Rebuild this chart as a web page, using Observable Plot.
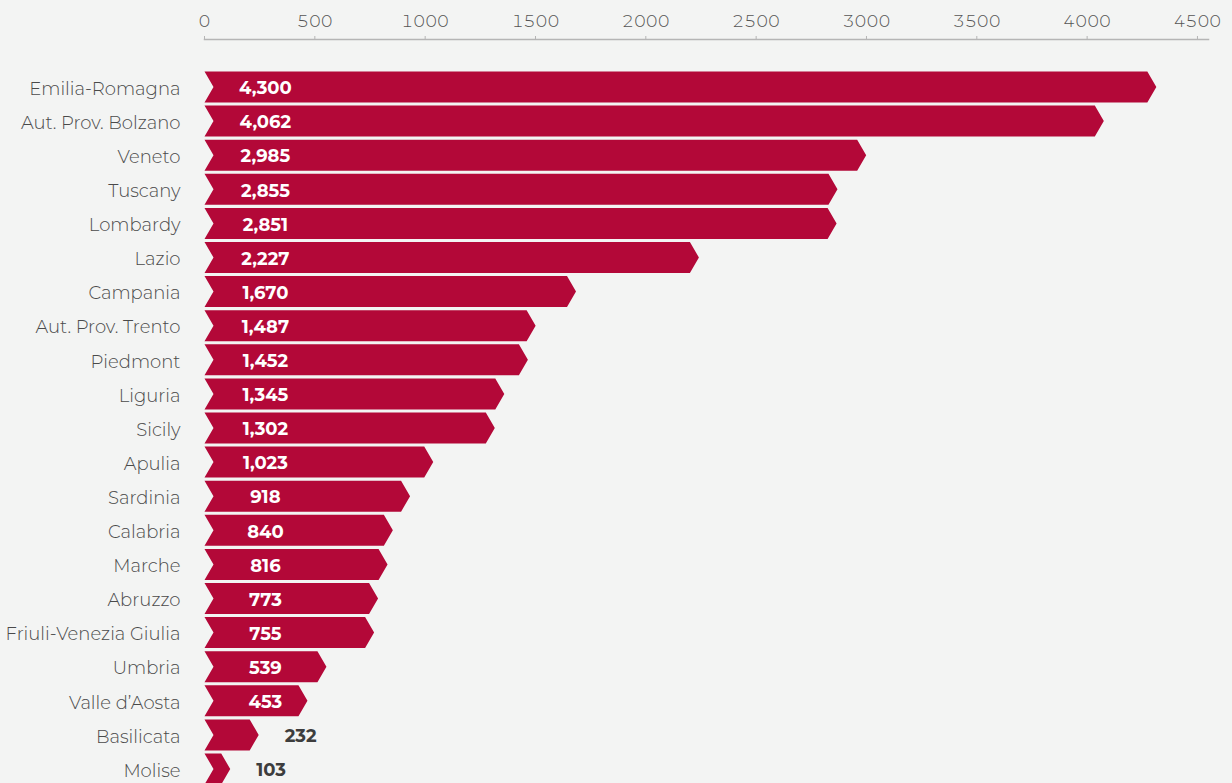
<!DOCTYPE html>
<html>
<head>
<meta charset="utf-8">
<script src="https://cdn.jsdelivr.net/npm/d3@7"></script>
<script src="https://cdn.jsdelivr.net/npm/@observablehq/plot@0.6"></script>
<style>
  html, body { margin: 0; padding: 0; background: #f3f4f3; }
  #chart svg { display: block; }
</style>
</head>
<body>
<div id="chart"></div>
<script>
const regions = ["Emilia-Romagna","Aut. Prov. Bolzano","Veneto","Tuscany","Lombardy","Lazio","Campania","Aut. Prov. Trento","Piedmont","Liguria","Sicily","Apulia","Sardinia","Calabria","Marche","Abruzzo","Friuli-Venezia Giulia","Umbria","Valle d’Aosta","Basilicata","Molise"];
const values = [4300,4062,2985,2855,2851,2227,1670,1487,1452,1345,1302,1023,918,840,816,773,755,539,453,232,103];
const xTicks = [0,500,1000,1500,2000,2500,3000,3500,4000,4500];

const data = regions.map((r, i) => ({region: r, value: values[i], row: i}));
const fmt = d3.format(",");
const BAR = "#b30838";
const FONT = "Montserrat, 'Noto Sans', Lato, sans-serif";

// scale geometry (pixels per unit) used to shape the chevrons
const X_MAX = 4550, PLOT_W = 1232 - 204 - 24;
const k = PLOT_W / X_MAX;
const notch = 9 / k;      // chevron depth in data units
const tipOff = 3 / k;
const half = 0.455;       // half bar height in row units

const poly = [];
for (const d of data) {
  const tip = d.value + tipOff;
  const sh = tip - notch;
  const pts = [
    [0, d.row - half], [sh, d.row - half], [tip, d.row], [sh, d.row + half],
    [0, d.row + half], [notch, d.row], [0, d.row - half]
  ];
  for (const [x, y] of pts) poly.push({region: d.region, x, y});
}

const inside = data.filter(d => d.value >= 400);
const outside = data.filter(d => d.value < 400);

const chart = Plot.plot({
  width: 1232,
  height: 783,
  marginTop: 39,
  marginLeft: 204,
  marginRight: 24,
  marginBottom: 0,
  style: {background: "#f3f4f3", fontFamily: FONT, fontSize: "16px", color: "#555"},
  x: {domain: [0, X_MAX], axis: null},
  y: {type: "linear", domain: [0, regions.length - 1], range: [86.5, 768.5], axis: null},
  marks: [
    Plot.frame({anchor: "top", stroke: "#b5b5b5", strokeWidth: 1.5}),
    Plot.axisX(xTicks, {anchor: "top", label: null, tickSize: 4, tickPadding: 9, stroke: "#b5b5b5", fill: "#555", fontSize: 17, fontWeight: 300, tickFormat: d => String(d)}),
    Plot.line(poly, {x: "x", y: "y", z: "region", fill: BAR, stroke: "none", curve: "linear"}),
    Plot.text(data, {x: 0, y: "row", text: "region", textAnchor: "end", dx: -24, dy: 2, fill: "#4a4a4a", fontSize: 18, fontWeight: 300}),
    Plot.text(inside, {x: () => 276, y: "row", text: d => fmt(d.value), fill: "white", fontWeight: "bold", fontSize: 18, textAnchor: "middle", dy: 1.5}),
    Plot.text(outside, {x: "value", y: "row", text: d => fmt(d.value), fill: "#3d3d3d", fontWeight: "bold", fontSize: 18, textAnchor: "start", dx: 29, dy: 1.5})
  ]
});
document.getElementById("chart").appendChild(chart);
</script>
</body>
</html>
